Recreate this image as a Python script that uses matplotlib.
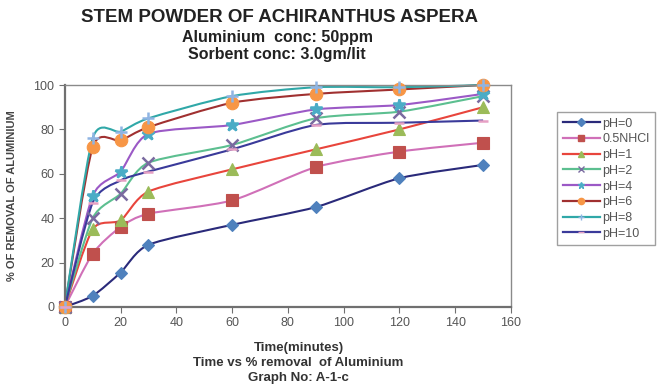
import matplotlib
matplotlib.use("Agg")
import matplotlib.pyplot as plt
import numpy as np
from matplotlib.path import Path
from matplotlib.patches import PathPatch
from matplotlib.lines import Line2D

plt.rcParams['font.family'] = ['Liberation Sans', 'DejaVu Sans']

time_min = [0, 10, 20, 30, 60, 90, 120, 150]
series_names = ["pH=0", "0.5NHCl", "pH=1", "pH=2", "pH=4", "pH=6", "pH=8", "pH=10"]
ph0 = [0, 5, 15.5, 28, 37, 45, 58, 64]
hcl = [0, 24, 36, 42, 48, 63, 70, 74]
ph1 = [0, 35, 39, 52, 62, 71, 80, 90]
ph2 = [0, 40, 51, 65, 73, 85, 88, 95]
ph4 = [0, 50, 61, 78, 82, 89, 91, 96]
ph6 = [0, 72, 75, 81, 92, 96, 98, 100]
ph8 = [0, 76, 79, 85, 95, 99, 99, 100]
ph10 = [0, 47, 57, 61, 71, 82, 83, 84]
all_series = [ph0, hcl, ph1, ph2, ph4, ph6, ph8, ph10]

line_colors = ["#2a2a7a", "#d070b8", "#e8453c", "#5cbf90", "#9b59c6", "#a03030", "#30a8a8", "#3a3a9a"]
marker_colors = ["#4f81bd", "#c0504d", "#9bbb59", "#7a6aa0", "#4bacc6", "#f79646", "#8fb4e3", "#e6a0c4"]
markers = ["D", "s", "^", "x", "*", "o", "+", "_"]
msizes = [6, 8, 8, 8, 9, 9, 8, 7]

fig = plt.figure(figsize=(6.68, 3.90), dpi=100)
ax = fig.add_axes([0.097, 0.213, 0.668, 0.569])


def smooth_path(x, y, t=0.12):
    x = np.asarray(x, float)
    y = np.asarray(y, float)
    n = len(x)
    verts = [(x[0], y[0])]
    codes = [Path.MOVETO]
    for i in range(n - 1):
        p0 = np.array([x[max(i - 1, 0)], y[max(i - 1, 0)]])
        p1 = np.array([x[i], y[i]])
        p2 = np.array([x[i + 1], y[i + 1]])
        p3 = np.array([x[min(i + 2, n - 1)], y[min(i + 2, n - 1)]])
        c1 = p1 + (p2 - p0) * t
        c2 = p2 - (p3 - p1) * t
        verts += [tuple(c1), tuple(c2), tuple(p2)]
        codes += [Path.CURVE4] * 3
    return Path(verts, codes)


handles = []
for name, vals, lc, mc, mk, ms in zip(series_names, all_series, line_colors, marker_colors, markers, msizes):
    patch = PathPatch(smooth_path(time_min, vals), facecolor="none", edgecolor=lc, lw=1.5,
                      transform=ax.transData, zorder=2, clip_on=False)
    ax.add_patch(patch)
    ax.plot(time_min, vals, linestyle="none", marker=mk, color=mc, markersize=ms,
            markeredgewidth=1.8 if mk in ("x", "+", "_", "*") else 0.8,
            markeredgecolor=mc, zorder=3, clip_on=False)
    handles.append(Line2D([], [], color=lc, lw=1.6, marker=mk, markersize=4.5,
                          markerfacecolor=mc, markeredgecolor=mc, label=name))

ax.set_xlim(0, 160)
ax.set_ylim(0, 100)
ax.set_xticks(range(0, 161, 20))
ax.set_yticks(range(0, 101, 20))
for s in ax.spines.values():
    s.set_color("#8a8a8a")
    s.set_linewidth(1.0)
ax.spines['left'].set_color("#707070")
ax.spines['bottom'].set_color("#707070")
ax.spines['left'].set_linewidth(1.6)
ax.spines['bottom'].set_linewidth(1.6)
ax.tick_params(axis="both", colors="#707070", labelcolor="#555555", labelsize=9,
               length=4, direction="out")

ax.set_ylabel("% OF REMOVAL OF ALUMINIUM", fontsize=8, fontweight="bold", color="#444444", labelpad=12)

fig.text(0.419, 0.955, "STEM POWDER OF ACHIRANTHUS ASPERA", ha="center", va="center",
         fontsize=13.5, fontweight="bold", color="#222222")
fig.text(0.415, 0.903, "Aluminium  conc: 50ppm", ha="center", va="center",
         fontsize=11.5, fontweight="bold", color="#222222")
fig.text(0.415, 0.861, "Sorbent conc: 3.0gm/lit", ha="center", va="center",
         fontsize=11.5, fontweight="bold", color="#222222")

fig.text(0.447, 0.108, "Time(minutes)", ha="center", va="center", fontsize=9.5,
         fontweight="bold", color="#333333")
fig.text(0.447, 0.070, "Time vs % removal  of Aluminium", ha="center", va="center", fontsize=9.5,
         fontweight="bold", color="#333333")
fig.text(0.447, 0.031, "Graph No: A-1-c", ha="center", va="center", fontsize=9.5,
         fontweight="bold", color="#333333")

leg = fig.legend(handles=handles, loc="upper left", bbox_to_anchor=(0.834, 0.713),
                 frameon=True, fancybox=False, fontsize=9, handlelength=3.0,
                 labelspacing=0.3, borderpad=0.45, handletextpad=0.15,
                 labelcolor="#555555", borderaxespad=0)
leg.get_frame().set_edgecolor("#888888")
leg.get_frame().set_linewidth(1.0)

fig.savefig("out.png", dpi=100)
